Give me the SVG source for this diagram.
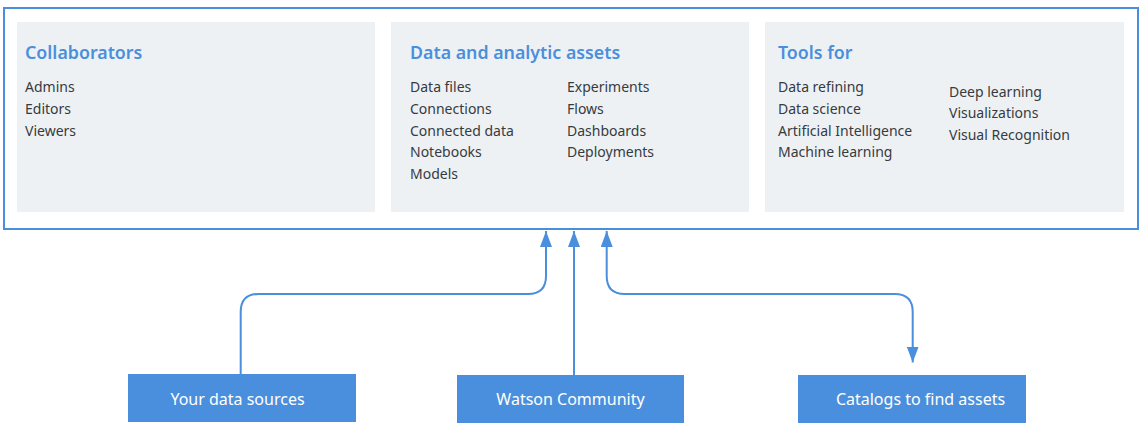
<svg xmlns="http://www.w3.org/2000/svg" width="1144" height="435" viewBox="0 0 1144 435">
<style>
.panel{fill:#eef1f4;}
.title{font-family:"Noto Sans","Liberation Sans",sans-serif;font-size:17.8px;font-weight:600;fill:#4a8fdd;}
.item{font-family:"Noto Sans","Liberation Sans",sans-serif;font-size:14px;fill:#363b40;}
.box{fill:#4a8fdd;}
.boxtext{font-family:"Noto Sans","Liberation Sans",sans-serif;font-size:16px;fill:#ffffff;text-anchor:middle;}
.conn{fill:none;stroke:#4a8fdd;stroke-width:2;}
</style>
<defs>
<marker id="arr" viewBox="0 0 16 12" refX="16" refY="6" markerWidth="16" markerHeight="12" markerUnits="userSpaceOnUse" orient="auto-start-reverse">
<path d="M0,0 L16,6 L0,12 Z" fill="#4a8fdd"/>
</marker>
</defs>
<rect width="1144" height="435" fill="#ffffff"/>
<g id="container">
<rect x="4" y="8" width="1134" height="221" fill="#ffffff" stroke="#4a8fdd" stroke-width="2"/>
</g>
<g id="collaborators">
<rect class="panel" x="17" y="22" width="358" height="190"/>
<text class="title" x="25" y="59">Collaborators</text>
<text class="item" x="25" y="92">Admins</text>
<text class="item" x="25" y="114">Editors</text>
<text class="item" x="25" y="135.5">Viewers</text>
</g>
<g id="assets">
<rect class="panel" x="391" y="22" width="358" height="190"/>
<text class="title" x="410" y="59">Data and analytic assets</text>
<text class="item" x="410" y="92">Data files</text>
<text class="item" x="410" y="114">Connections</text>
<text class="item" x="410" y="135.5">Connected data</text>
<text class="item" x="410" y="157">Notebooks</text>
<text class="item" x="410" y="179">Models</text>
<text class="item" x="567" y="92">Experiments</text>
<text class="item" x="567" y="114">Flows</text>
<text class="item" x="567" y="135.5">Dashboards</text>
<text class="item" x="567" y="157">Deployments</text>
</g>
<g id="tools">
<rect class="panel" x="765" y="22" width="359" height="190"/>
<text class="title" x="778" y="59">Tools for</text>
<text class="item" x="778" y="92">Data refining</text>
<text class="item" x="778" y="114">Data science</text>
<text class="item" x="778" y="135.5">Artificial Intelligence</text>
<text class="item" x="778" y="157">Machine learning</text>
<text class="item" x="949" y="96.5">Deep learning</text>
<text class="item" x="949" y="118">Visualizations</text>
<text class="item" x="949" y="140">Visual Recognition</text>
</g>
<g id="connectors">
<path class="conn" d="M240.7,374 V312 Q240.7,294 258.7,294 H528 Q546,294 546,276 V231" marker-end="url(#arr)"/>
<path class="conn" d="M574,375 V231" marker-end="url(#arr)"/>
<path class="conn" d="M606.7,231 V276 Q606.7,294 624.7,294 H894.7 Q912.7,294 912.7,312 V362.5" marker-start="url(#arr)" marker-end="url(#arr)"/>
</g>
<g id="your-data-sources">
<rect class="box" x="128" y="374" width="228" height="48"/>
<text class="boxtext" x="237.5" y="405">Your data sources</text>
</g>
<g id="watson-community">
<rect class="box" x="457" y="375" width="227" height="48"/>
<text class="boxtext" x="570.5" y="405">Watson Community</text>
</g>
<g id="catalogs">
<rect class="box" x="798" y="375" width="228" height="48"/>
<text class="boxtext" x="920.5" y="405">Catalogs to find assets</text>
</g>
</svg>
